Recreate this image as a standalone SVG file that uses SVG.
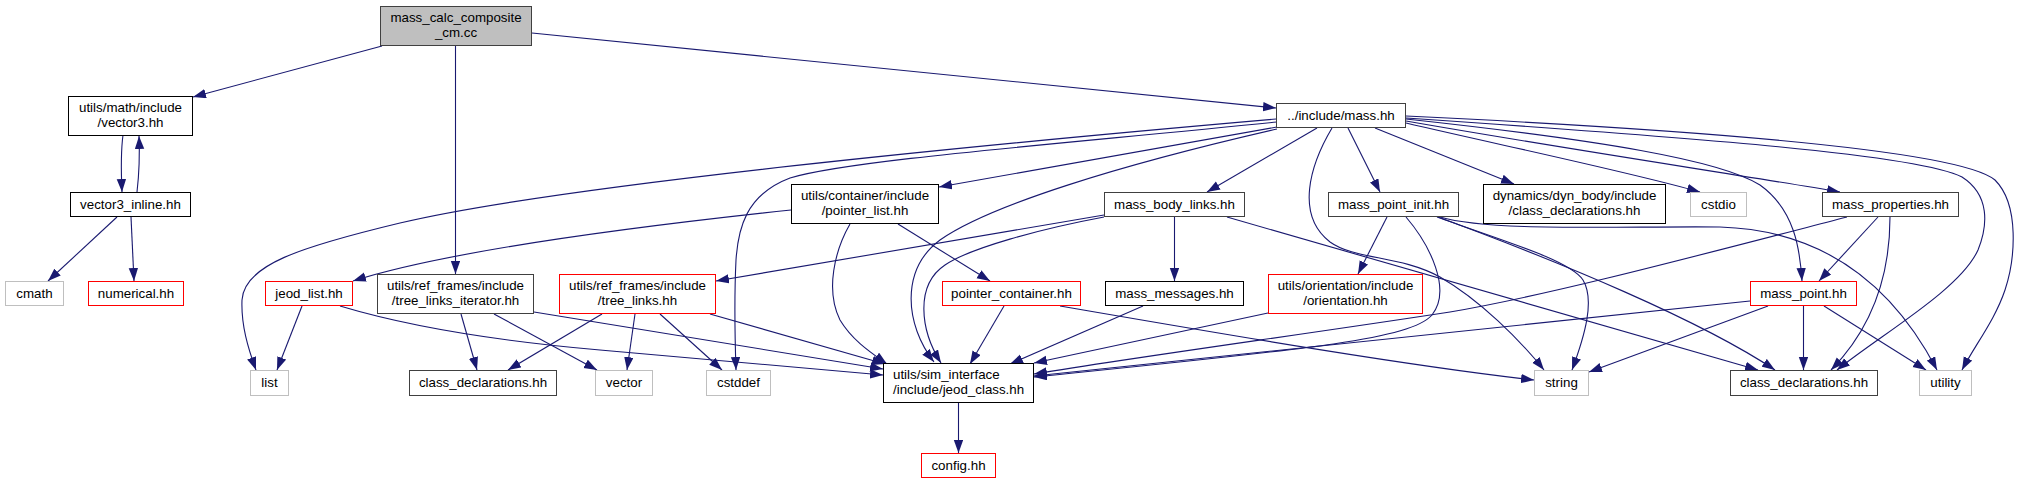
<svg xmlns="http://www.w3.org/2000/svg" width="2020" height="484" viewBox="0 0 2020 484">
<style>
.n rect{fill:#fff;stroke:#404040;stroke-width:1}
.n.k rect{stroke:#000}
.n.r rect{stroke:#ff0000}
.n.g rect{stroke:#bfbfbf}
.n.root rect{fill:#bfbfbf;stroke:#404040}
.n text{font-family:"Liberation Sans",Arial,sans-serif;font-size:13.33px;fill:#000;text-anchor:middle}
#edges path{fill:none;stroke:#191970;stroke-width:1.1;marker-end:url(#ah)}
</style>
<defs>
<marker id="ah" markerWidth="14" markerHeight="10" refX="13" refY="4.7" orient="auto" markerUnits="userSpaceOnUse">
<path d="M0,0 L13,4.7 L0,9.4 z" fill="#191970"/>
</marker>
</defs>
<rect width="2020" height="484" fill="#fff"/>
<g id="edges">
<path d="M382,46 L193,97"/>
<path d="M455.5,46 L455.5,274"/>
<path d="M532,33 L1276,108"/>
<path d="M123,135 C121,150 121,170 122,192"/>
<path d="M137,192 C139,175 140,160 139,136"/>
<path d="M117,217 L48,281"/>
<path d="M131,217 L134,281"/>
<path d="M1276,119 C1000,143 560,185 400,223 C300,247 244,265 242,300 C241,325 248,348 256,370"/>
<path d="M1277,122 C1050,145 850,160 790,178 C745,195 738,230 736,260 C734,300 735,340 736,370"/>
<path d="M1277,127 L939,187"/>
<path d="M1277,129 C1120,165 990,205 940,240 C900,270 905,325 934,362"/>
<path d="M1317,128 L1207,192"/>
<path d="M1332,128 C1310,165 1295,215 1330,242 C1355,260 1400,255 1440,277 C1480,300 1520,340 1544,370"/>
<path d="M1348,128 L1380,192"/>
<path d="M1375,128 L1514,184"/>
<path d="M1406,123 C1500,145 1630,172 1700,192"/>
<path d="M1406,121 C1560,148 1740,175 1840,192"/>
<path d="M1406,119 C1600,140 1720,160 1760,185 C1795,210 1800,250 1802,281"/>
<path d="M1406,118 C1700,138 1920,155 1962,177 C1990,195 1988,225 1978,250 C1960,290 1880,335 1837,370"/>
<path d="M1406,116 C1700,130 1960,150 1995,180 C2020,205 2015,260 2005,290 C1995,320 1975,345 1962,370"/>
<path d="M1387,217 L1358,274"/>
<path d="M1406,217 C1430,245 1452,290 1432,315 C1410,340 1300,350 1034,377"/>
<path d="M1437,217 C1500,240 1570,260 1583,280 C1595,300 1585,335 1572,370"/>
<path d="M1438,217 C1560,262 1700,320 1775,370"/>
<path d="M1440,217 C1490,232 1620,226 1720,227 C1820,230 1890,280 1937,370"/>
<path d="M1750,301 L1034,376"/>
<path d="M1768,306 L1589,372"/>
<path d="M1803.5,306 L1803.5,370"/>
<path d="M1824,306 L1926,370"/>
<path d="M1847,217 C1700,255 1550,295 1450,312 C1300,335 1150,355 1034,374"/>
<path d="M1878,217 L1819,281"/>
<path d="M1890,217 C1890,260 1880,320 1831,370"/>
<path d="M1104,215 L716,281"/>
<path d="M1104,217 C1040,229 970,248 945,265 C915,285 920,330 941,363"/>
<path d="M1174.5,217 L1174.5,281"/>
<path d="M1227,217 L1758,370"/>
<path d="M791,210 C650,225 450,250 353,281"/>
<path d="M898,224 L990,281"/>
<path d="M850,224 C835,250 825,290 840,320 C852,340 870,352 887,364"/>
<path d="M1004,306 L970,364"/>
<path d="M1060,306 C1200,330 1400,365 1534,380"/>
<path d="M1143,306 L1010,364"/>
<path d="M1268,313 L1034,363"/>
<path d="M602,314 L508,370"/>
<path d="M635,314 L627,370"/>
<path d="M660,314 L722,370"/>
<path d="M710,314 L885,364"/>
<path d="M461,314 L477,370"/>
<path d="M494,314 L597,370"/>
<path d="M534,312 L883,369"/>
<path d="M302,306 L277,370"/>
<path d="M340,306 C420,330 520,343 600,350 C700,358 800,368 883,375"/>
<path d="M958.5,403 L958.5,453"/>
</g>
<g id="n1" class="n root"><rect x="380.5" y="6.5" width="151" height="39"/><text x="456" y="22">mass_calc_composite</text><text x="456" y="37">_cm.cc</text></g>
<g id="n2" class="n k"><rect x="68.5" y="96.5" width="124" height="39"/><text x="130.5" y="112">utils/math/include</text><text x="130.5" y="126.5">/vector3.hh</text></g>
<g id="n3" class="n k"><rect x="70.5" y="192.5" width="120" height="24"/><text x="130.5" y="208.5">vector3_inline.hh</text></g>
<g id="n4" class="n g"><rect x="5.5" y="281.5" width="58" height="24"/><text x="34.5" y="297.5">cmath</text></g>
<g id="n5" class="n r"><rect x="88.5" y="281.5" width="95" height="24"/><text x="136" y="297.5">numerical.hh</text></g>
<g id="n6" class="n r"><rect x="265.5" y="281.5" width="87" height="24"/><text x="309" y="297.5">jeod_list.hh</text></g>
<g id="n7" class="n"><rect x="377.5" y="274.5" width="156" height="39"/><text x="455.5" y="290">utils/ref_frames/include</text><text x="455.5" y="304.5">/tree_links_iterator.hh</text></g>
<g id="n8" class="n g"><rect x="250.5" y="370.5" width="38" height="25"/><text x="269.5" y="387">list</text></g>
<g id="n9" class="n"><rect x="409.5" y="370.5" width="147" height="25"/><text x="483" y="387">class_declarations.hh</text></g>
<g id="n10" class="n r"><rect x="559.5" y="274.5" width="156" height="39"/><text x="637.5" y="290">utils/ref_frames/include</text><text x="637.5" y="304.5">/tree_links.hh</text></g>
<g id="n11" class="n g"><rect x="595.5" y="370.5" width="57" height="25"/><text x="624" y="387">vector</text></g>
<g id="n12" class="n g"><rect x="706.5" y="370.5" width="64" height="25"/><text x="738.5" y="387">cstddef</text></g>
<g id="n13" class="n k"><rect x="883.5" y="363.5" width="150" height="39"/><text x="893" y="379" style="text-anchor:start">utils/sim_interface</text><text x="893" y="393.5" style="text-anchor:start">/include/jeod_class.hh</text></g>
<g id="n14" class="n r"><rect x="921.5" y="453.5" width="74" height="24"/><text x="958.5" y="470">config.hh</text></g>
<g id="n15" class="n r"><rect x="942.5" y="281.5" width="138" height="24"/><text x="1011.5" y="297.5">pointer_container.hh</text></g>
<g id="n16" class="n k"><rect x="1105.5" y="281.5" width="138" height="24"/><text x="1174.5" y="297.5">mass_messages.hh</text></g>
<g id="n17" class="n r"><rect x="1268.5" y="274.5" width="154" height="39"/><text x="1345.5" y="290">utils/orientation/include</text><text x="1345.5" y="304.5">/orientation.hh</text></g>
<g id="n18" class="n r"><rect x="1750.5" y="281.5" width="106" height="24"/><text x="1803.5" y="297.5">mass_point.hh</text></g>
<g id="n19" class="n g"><rect x="1534.5" y="370.5" width="54" height="25"/><text x="1561.5" y="387">string</text></g>
<g id="n20" class="n"><rect x="1730.5" y="370.5" width="147" height="25"/><text x="1804" y="387">class_declarations.hh</text></g>
<g id="n21" class="n g"><rect x="1919.5" y="370.5" width="52" height="25"/><text x="1945.5" y="387">utility</text></g>
<g id="n22" class="n k"><rect x="791.5" y="184.5" width="147" height="39"/><text x="865" y="200">utils/container/include</text><text x="865" y="214.5">/pointer_list.hh</text></g>
<g id="n23" class="n"><rect x="1276.5" y="103.5" width="129" height="24"/><text x="1341" y="119.5">../include/mass.hh</text></g>
<g id="n24" class="n"><rect x="1104.5" y="192.5" width="140" height="24"/><text x="1174.5" y="208.5">mass_body_links.hh</text></g>
<g id="n25" class="n"><rect x="1328.5" y="192.5" width="130" height="24"/><text x="1393.5" y="208.5">mass_point_init.hh</text></g>
<g id="n26" class="n k"><rect x="1483.5" y="184.5" width="182" height="39"/><text x="1574.5" y="200">dynamics/dyn_body/include</text><text x="1574.5" y="214.5">/class_declarations.hh</text></g>
<g id="n27" class="n g"><rect x="1690.5" y="192.5" width="56" height="24"/><text x="1718.5" y="208.5">cstdio</text></g>
<g id="n28" class="n"><rect x="1822.5" y="192.5" width="136" height="24"/><text x="1890.5" y="208.5">mass_properties.hh</text></g>
</svg>
